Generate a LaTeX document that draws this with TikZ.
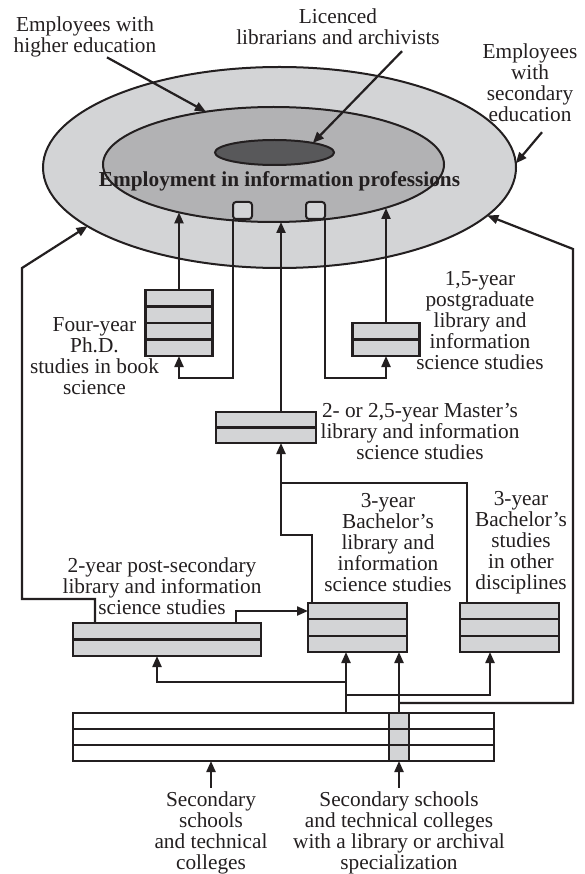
\documentclass[tikz,border=0pt]{standalone}
\usepackage{fontspec}
\setmainfont{Liberation Serif}
\usetikzlibrary{arrows.meta,calc,shapes.geometric}
\definecolor{ink}{HTML}{231F20}
\definecolor{ringlight}{HTML}{D3D4D6}
\definecolor{ringmid}{HTML}{B2B2B4}
\definecolor{core}{HTML}{58585A}
\begin{document}
\begin{tikzpicture}[x=1pt,y=-1pt,
  lbl/.style={font=\fontsize{21.3}{21}\selectfont,align=center,inner sep=0pt,text=ink},
  ring/.style={ellipse,draw=ink,line width=2pt,inner sep=0pt,outer sep=0pt},
  box/.style={draw=ink,line width=2.6pt,fill=ringlight,inner sep=0pt,outer sep=0pt},
  knob/.style={draw=ink,line width=2pt,fill=ringlight,rounded corners=3pt,inner sep=0pt,outer sep=0pt,minimum width=19pt,minimum height=17pt},
  rowline/.style={draw=ink,line width=2.2pt},
  conn/.style={draw=ink,line width=2.2pt},
  arr/.style={conn,-{Triangle[length=11pt,width=9pt]}},
]
\fill[white] (0,0) rectangle (585,874);
\useasboundingbox (0,0) rectangle (585,874);

% nested employment rings
\node[ring,fill=ringlight,minimum width=473pt,minimum height=201pt] (outer) at (279.5,167.5) {};
\node[ring,fill=ringmid,minimum width=341pt,minimum height=115pt] (inner) at (273.5,164.5) {};
\node[ring,fill=core,minimum width=119pt,minimum height=25pt] (core) at (274.5,152.5) {};
\node[lbl,font=\fontsize{21.3}{21}\selectfont\bfseries,anchor=base] (title) at (279.5,187) {Employment in information professions};

% entry knobs on the inner ring
\node[knob] (sq1) at (242.5,210.5) {};
\node[knob] (sq2) at (315.5,210.5) {};

% study programmes
\node[box,minimum width=67pt,minimum height=66pt] (phd) at (179,323) {};
\node[box,minimum width=67pt,minimum height=33pt] (post) at (386,339.5) {};
\node[box,minimum width=100pt,minimum height=31pt] (master) at (266,427.5) {};
\node[box,minimum width=188pt,minimum height=33pt] (twoyear) at (167,639.5) {};
\node[box,minimum width=99pt,minimum height=49pt] (balis) at (357.5,627.5) {};
\node[box,minimum width=99pt,minimum height=49pt] (baoth) at (509.5,627.5) {};
\node[box,fill=white,minimum width=421pt,minimum height=48pt] (school) at (283.5,737) {};
\node[box,minimum width=20pt,minimum height=48pt] (spec) at (399,737) {};

% rows inside the programme boxes (one row per year)
\foreach \n/\k in {phd/4,post/2,master/2,twoyear/2,balis/3,baoth/3,school/3}{
  \pgfmathtruncatemacro\lastrow{\k-1}
  \foreach \i in {1,...,\lastrow}{
    \draw[rowline] ($(\n.north west)!\i/\k!(\n.south west)$) -- ($(\n.north east)!\i/\k!(\n.south east)$);
  }
}

% labels
\node[lbl] (hiEdu) at (85,37) {Employees with\\higher education};
\node[lbl] (licLbl) at (338,27) {Licenced\\librarians and archivists};
\node[lbl] (secEdu) at (530,83) {Employees\\with\\secondary\\education};
\node[lbl] (phdLbl) at (94.5,356.5) {Four-year\\Ph.D.\\studies in book\\science};
\node[lbl] (postLbl) at (480,321) {1,5-year\\postgraduate\\library and\\information\\science studies};
\node[lbl] (masterLbl) at (420,432) {2- or 2,5-year Master’s\\library and information\\science studies};
\node[lbl] (balisLbl) at (388,543) {3-year\\Bachelor’s\\library and\\information\\science studies};
\node[lbl] (baothLbl) at (521,543) {3-year\\Bachelor’s\\studies\\in other\\disciplines};
\node[lbl] (twoLbl) at (162,586) {2-year post-secondary\\library and information\\science studies};
\node[lbl] (schLbl) at (211,833) {Secondary\\schools\\and technical\\colleges};
\node[lbl] (specLbl) at (399,833) {Secondary schools\\and technical colleges\\with a library or archival\\specialization};

% pointers from the top labels
\draw[arr] ($(hiEdu.south)+(22,0)$) -- (inner.142.4);
\draw[arr] ($(licLbl.south)+(64,6)$) -- (core.14);
\draw[arr] ($(secEdu.south)+(12,10)$) -- (outer.1.3);

% graduates entering employment
\coordinate (tipA) at (179,212.4);
\coordinate (tipB) at (281,222);
\coordinate (tipC) at (386,208);
\draw[arr] (phd.north) -- (tipA);
\draw[arr] (master.north -| tipB) -- (tipB);
\draw[arr] (post.north) -- (tipC);

% employed people returning to further study
\coordinate (loopY) at (0,378);
\draw[arr] (sq1.south west) -- (sq1.south west |- loopY) -| (phd.south);
\draw[arr] (sq2.south east) -- (sq2.south east |- loopY) -| (post.south);

% bachelor degrees leading to the master programme
\coordinate (jBa) at (281,535);
\coordinate (jOt) at (281,483);
\draw[arr] ($(balis.north west)+(4,0)$) |- (jBa) -- (master.south -| jBa);
\draw[conn] ($(baoth.north west)+(7,0)$) |- (jOt);

% post-secondary studies
\coordinate (elbowL1) at (22,599);
\coordinate (elbowL2) at (22,268);
\draw[arr] ($(twoyear.north west)+(22,0)$) |- (elbowL1) -- (elbowL2) -- (outer.197.8);
\draw[arr] ($(twoyear.north west)+(163,0)$) |- ($(balis.north west)+(0,8)$);

% secondary schools feeding the programmes
\coordinate (feedA) at (346,713);
\coordinate (brL) at (346,682);
\coordinate (brR) at (346,695);
\draw[arr] (feedA) -- (feedA |- balis.south);
\draw[arr] (brL) -| ($(twoyear.south)+(-10,0)$);
\draw[arr] (brR) -| ($(baoth.south)+(-19.5,0)$);
\coordinate (brF) at (399,703);
\coordinate (elbowR1) at (573,703);
\coordinate (elbowR2) at (573,249);
\draw[arr] (spec.north) -- (spec.north |- balis.south);
\draw[arr] (brF) -- (elbowR1) -- (elbowR2) -- (outer.-13.1);

% school leavers
\draw[arr] ($(schLbl.north)+(0,-4)$) -- (schLbl.north |- school.south);
\draw[arr] ($(specLbl.north)+(0,-4)$) -- (specLbl.north |- school.south);
\end{tikzpicture}
\end{document}
